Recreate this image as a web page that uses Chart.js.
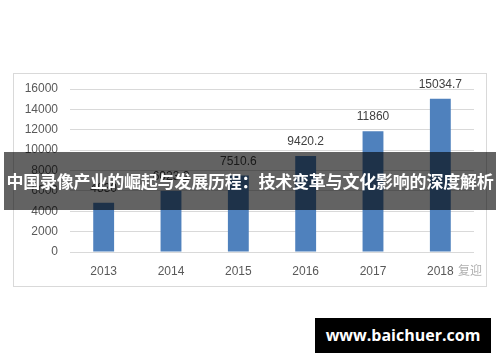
<!DOCTYPE html>
<html>
<head>
<meta charset="utf-8">
<script src="https://cdn.jsdelivr.net/npm/chart.js@4"></script>
<style>
  html, body { margin: 0; padding: 0; background: #fff; }
  #wrap { position: relative; width: 500px; height: 362px; overflow: hidden; }
  #frame { position: absolute; left: 13px; top: 73px; width: 472px; height: 212px; border: 1px solid #d9d9d9; }
  #chart { position: absolute; left: 0; top: 0; }
  #banner {
    position: absolute; left: 4px; top: 152px; width: 492px; height: 58px;
    background: rgba(0, 0, 0, 0.61); color: #fff;
    font: bold 17px "Noto Sans CJK SC", sans-serif; line-height: 58px;
    text-align: center; white-space: nowrap; letter-spacing: -0.2px;
  }
  #mark { position: absolute; left: 458px; top: 261px; color: #b0b0b0; font: 12px "Noto Sans CJK SC", sans-serif; }
  #site {
    position: absolute; left: 315px; top: 318px; width: 176px; height: 35px;
    background: #000; color: #fff; font: bold 16px "Open Sans", sans-serif;
    line-height: 35px; text-align: center;
  }
</style>
</head>
<body>
<div id="wrap">
  <div id="frame"></div>
  <canvas id="chart" width="500" height="362"></canvas>
  <div id="banner">中国录像产业的崛起与发展历程：技术变革与文化影响的深度解析</div>
  <div id="mark">复迎</div>
  <div id="site">www.baichuer.com</div>
</div>
<script>
// values
const years = ['2013', '2014', '2015', '2016', '2017', '2018'];
const values = [4830, 6023.2, 7510.6, 9420.2, 11860, 15034.7];
const labels = ['4830', '6023.2', '7510.6', '9420.2', '11860', '15034.7'];

// draws the value above each bar
const barLabels = {
  id: 'barLabels',
  afterDatasetsDraw(chart) {
    const ctx = chart.ctx;
    const meta = chart.getDatasetMeta(0);
    ctx.save();
    ctx.fillStyle = '#404040';
    ctx.font = '12px "Liberation Sans", sans-serif';
    ctx.textAlign = 'center';
    ctx.textBaseline = 'middle';
    meta.data.forEach((bar, i) => {
      ctx.fillText(labels[i], bar.x, bar.y - 14);
    });
    ctx.restore();
  },
};

new Chart(document.getElementById('chart').getContext('2d'), {
  type: 'bar',
  data: {
    labels: years,
    datasets: [{
      data: values,
      backgroundColor: '#4f81bd',
      categoryPercentage: 1,
      barPercentage: 0.31,
    }],
  },
  options: {
    responsive: false,
    animation: false,
    layout: { padding: { left: 0, right: 26, top: 89, bottom: 0 } },
    plugins: { legend: { display: false }, tooltip: { enabled: false } },
    scales: {
      x: {
        grid: { display: false, drawTicks: false },
        border: { display: false },
        ticks: { color: '#595959', font: { size: 12, family: 'Liberation Sans' }, padding: 12 },
        afterFit(axis) { axis.height = 110; },
      },
      y: {
        min: 0,
        max: 16000,
        grid: { color: '#d9d9d9', drawTicks: false },
        border: { display: false },
        ticks: {
          stepSize: 2000,
          color: '#595959',
          font: { size: 12, family: 'Liberation Sans' },
          padding: 12,
          callback: (v) => String(v),
        },
        afterFit(axis) { axis.width = 70; },
      },
    },
  },
  plugins: [barLabels],
});
</script>
</body>
</html>
